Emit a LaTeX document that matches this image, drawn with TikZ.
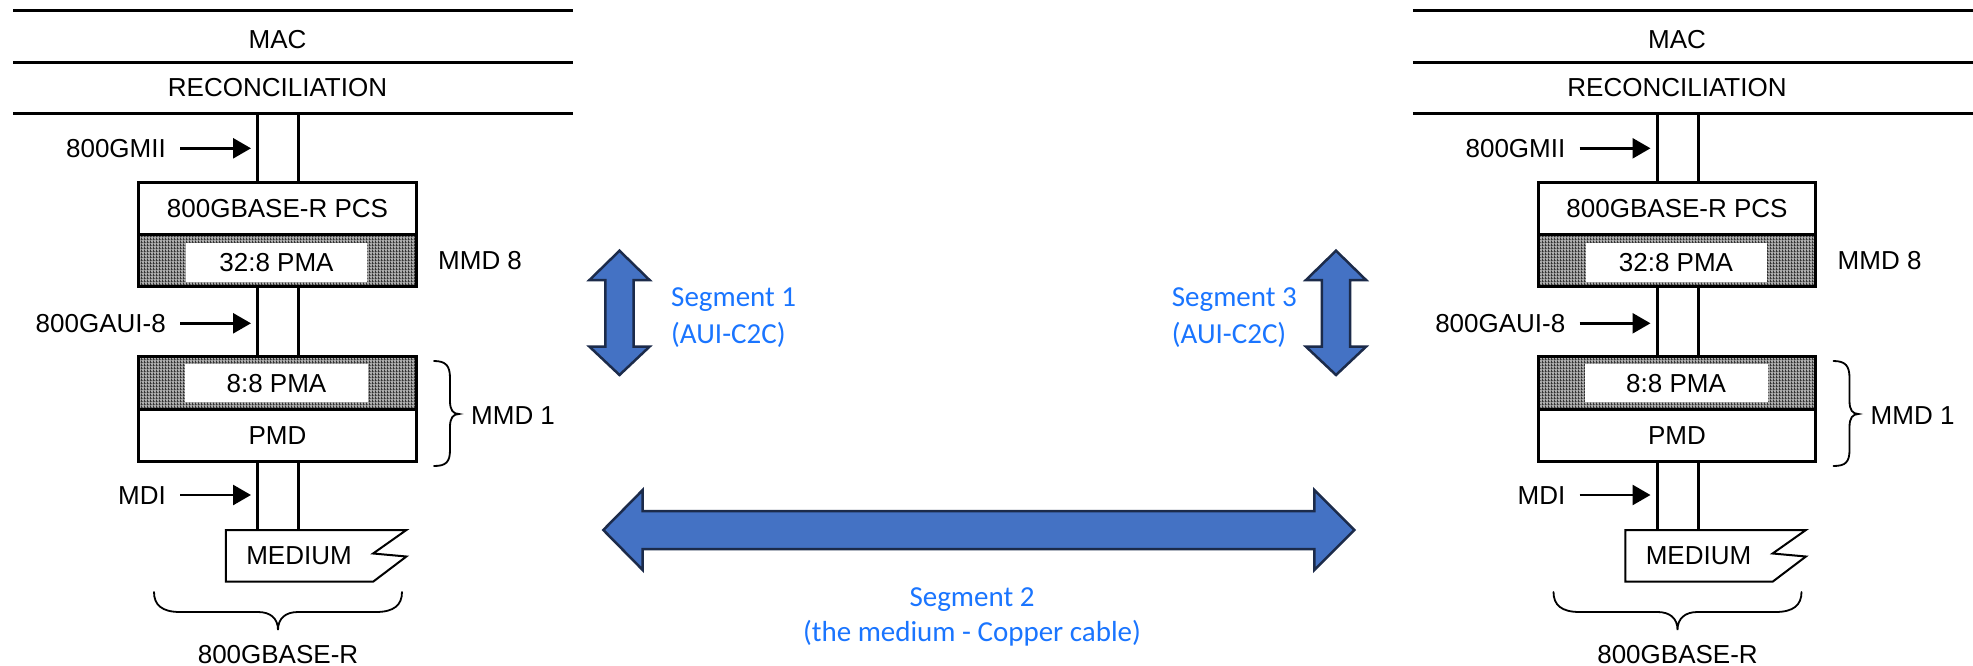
\documentclass[tikz,border=0pt]{standalone}
\usepackage{fontspec}
\setmainfont{Liberation Sans}
\newfontfamily\segfont{Carlito}
\usetikzlibrary{arrows.meta,patterns}

\definecolor{segblue}{HTML}{1A75FF}
\definecolor{arrowfill}{HTML}{4472C4}
\definecolor{arrowedge}{HTML}{1C2B4A}

% fine vertical dither used for the PMA sublayers
\pgfdeclarepatternformonly{dither}{\pgfpointorigin}{\pgfpoint{3pt}{3pt}}{\pgfpoint{3pt}{3pt}}{%
  \pgfpathrectangle{\pgfpointorigin}{\pgfpoint{1.2pt}{3pt}}\pgfusepath{fill}%
  \pgfpathrectangle{\pgfpoint{1.2pt}{0pt}}{\pgfpoint{1.8pt}{0.7pt}}\pgfusepath{fill}}

\tikzset{
  layerline/.style={line width=3pt},
  bus/.style={line width=3pt},
  lbl/.style={inner sep=0pt, text height=18.6pt, text depth=0pt,
    font=\fontsize{26}{30}\selectfont},
  plainbox/.style={draw, line width=3pt, fill=white, minimum width=277.9pt,
    inner sep=0pt, text height=18.6pt, text depth=0pt, font=\fontsize{26}{30}\selectfont},
  hatchbox/.style={draw, line width=3pt, minimum width=277.9pt, inner sep=0pt,
    preaction={fill=black!32}, pattern=dither, pattern color=black!80},
  inbox/.style={fill=white, inner sep=0pt, text height=18.6pt, text depth=0pt,
    font=\fontsize{26}{30}\selectfont},
  ptr/.style={line width=2.7pt, -{Triangle[length=18pt,width=20pt]}},
  bracket/.style={line width=1.8pt, line cap=round},
  seg/.style={inner sep=0pt, text height=18.7pt, text depth=0pt, text=segblue,
    font=\segfont\fontsize{29}{34}\selectfont},
  bigarrow/.style={fill=arrowfill, draw=arrowedge, line width=2.5pt, line join=miter},
}

% one complete 800GBASE-R sublayer stack; #1 is the name prefix
\newcommand\sublayerstack[1]{%
  % layer separators
  \draw[layerline] (13.4,10.7) -- (573,10.7);
  \draw[layerline] (13.4,62.3) -- (573,62.3);
  \draw[layerline] (13.4,113.3) -- (573,113.3);
  \node[lbl] (#1mac) at (277.5,39.3) {MAC};
  \node[lbl] (#1rs) at (277.5,87.3) {RECONCILIATION};
  % boxes
  \node[plainbox, minimum height=51.6pt] (#1pcs) at (277.5,208.5) {800GBASE-R PCS};
  \node[hatchbox, minimum height=52.4pt] (#1pmaA) at (277.5,260.5) {};
  \node[inbox, minimum width=181pt, minimum height=38.4pt] (#1pmaAt) at (276.5,262.5) {32:8 PMA};
  \node[hatchbox, minimum height=52.3pt] (#1pmaB) at (277.5,382.85) {};
  \node[inbox, minimum width=183pt, minimum height=37.4pt] (#1pmaBt) at (276.5,383) {8:8 PMA};
  \node[plainbox, minimum height=52pt] (#1pmd) at (277.5,435) {PMD};
  % medium
  \draw[line width=2pt, fill=white] (225.8,530) -- (406.4,530) -- (373.1,553.5)
    -- (406.4,556.5) -- (373.1,581.7) -- (225.8,581.7) -- cycle;
  \node[lbl] (#1med) at (299,555) {MEDIUM};
  % service interface buses
  \foreach \bx in {-20,21}{
    \draw[bus] ([xshift=\bx pt]#1pcs.north |- 0,113.3) -- ([xshift=\bx pt]#1pcs.north);
    \draw[bus] ([xshift=\bx pt]#1pmaA.south) -- ([xshift=\bx pt]#1pmaB.north);
    \draw[bus] ([xshift=\bx pt]#1pmd.south) -- ([xshift=\bx pt]#1pmd.south |- 0,530);
  }
  % interface labels
  \node[lbl, anchor=east] (#1gmii) at (166,148.3) {800GMII};
  \node[lbl, anchor=east] (#1aui) at (166,323.3) {800GAUI-8};
  \node[lbl, anchor=east] (#1mdi) at (166,495) {MDI};
  \coordinate (#1gmiiat) at (251,148.3);
  \coordinate (#1auiat) at (251,323.3);
  \coordinate (#1mdiat) at (251,495);
  \draw[ptr] ([xshift=14pt]#1gmii.east) -- (#1gmiiat);
  \draw[ptr] ([xshift=14pt]#1aui.east) -- (#1auiat);
  \draw[ptr] ([xshift=14pt]#1mdi.east) -- (#1mdiat);
  % MMD labels
  \node[lbl, anchor=west] (#1mmd8) at (438,260) {MMD 8};
  \draw[bracket] (434,361) .. controls (446,361) and (450,366) .. (450,378) -- (450,401)
    .. controls (450,410) and (453,414) .. (459,414)
    .. controls (453,414) and (450,418) .. (450,427) -- (450,450)
    .. controls (450,462) and (446,466) .. (434,466);
  \node[lbl, anchor=west] (#1mmd1) at (471,415) {MMD 1};
  % PHY brace
  \draw[bracket] (154,592) .. controls (154,605) and (162,612) .. (180,612) -- (258,612)
    .. controls (270,612) and (278,618) .. (278,630)
    .. controls (278,618) and (286,612) .. (298,612) -- (376,612)
    .. controls (394,612) and (402,605) .. (402,592);
  \node[lbl] (#1phy) at (278,654) {800GBASE-R};
}

\begin{document}
\begin{tikzpicture}[x=1pt,y=-1pt]
  \useasboundingbox (0,0) rectangle (1973,666);
  \fill[white] (0,0) rectangle (1973,666);

  \sublayerstack{l}
  \begin{scope}[xshift=1399.5]
    \sublayerstack{r}
  \end{scope}

  % segment 1 (AUI-C2C)
  \draw[bigarrow] (619.5,250.7) -- (649.5,280) -- (633.7,280) -- (633.7,346.7)
    -- (649.5,346.7) -- (619.5,375) -- (589.5,346.7) -- (605.3,346.7)
    -- (605.3,280) -- (589.5,280) -- cycle;
  \node[seg, anchor=west] (s1a) at (671,297.5) {Segment 1};
  \node[seg, anchor=west] (s1b) at (671,334) {(AUI-C2C)};

  % segment 3 (AUI-C2C)
  \draw[bigarrow] (1336,250.7) -- (1366,280) -- (1350.2,280) -- (1350.2,346.7)
    -- (1366,346.7) -- (1336,375) -- (1306,346.7) -- (1321.8,346.7)
    -- (1321.8,280) -- (1306,280) -- cycle;
  \node[seg, anchor=west] (s3a) at (1171.7,297.5) {Segment 3};
  \node[seg, anchor=west] (s3b) at (1171.7,334) {(AUI-C2C)};

  % segment 2, the medium
  \draw[bigarrow] (603.3,530) -- (642.7,490) -- (642.7,511) -- (1314.3,511)
    -- (1314.3,490) -- (1354.3,530) -- (1314.3,570) -- (1314.3,549)
    -- (642.7,549) -- (642.7,570) -- cycle;
  \node[seg] (s2a) at (972,597) {Segment 2};
  \node[seg] (s2b) at (972,632.5) {(the medium - Copper cable)};
\end{tikzpicture}
\end{document}
